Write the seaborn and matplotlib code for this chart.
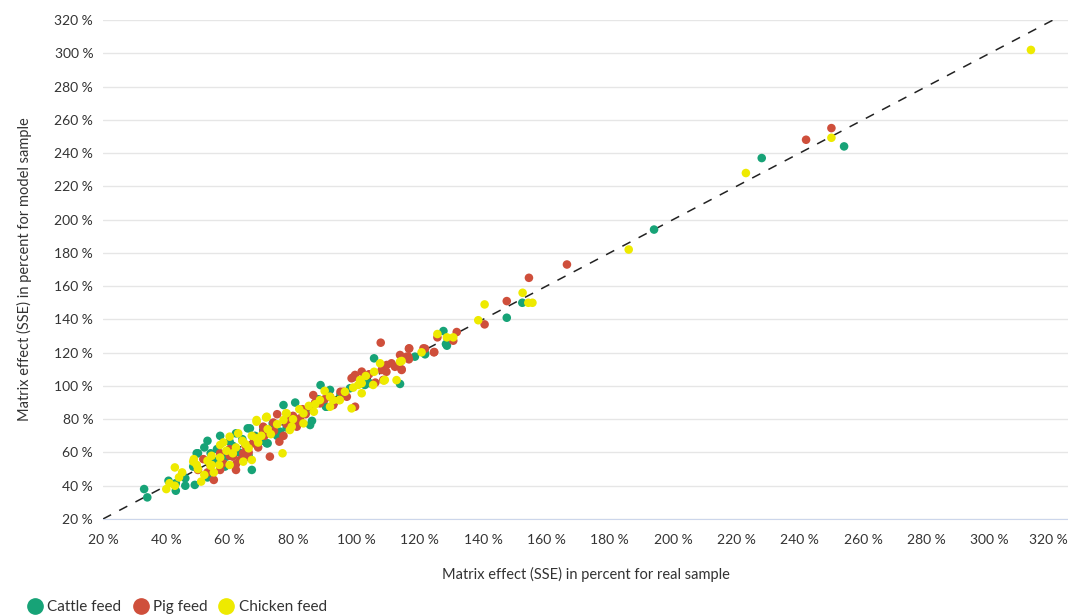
import matplotlib.pyplot as plt
import matplotlib.ticker as mticker
import matplotlib.transforms as mtransforms
import pandas as pd
import seaborn as sns

# values (percent)
cattle_real = [33, 34, 43, 43, 40.7, 46, 46, 49, 53, 53, 49.6, 48.5, 54, 59, 62, 60, 65.7, 73.6, 77, 80.7,
               72, 67, 50, 58.5, 88.7, 98, 90.4, 85.4, 79, 70.6, 66.4, 71.7, 75.9, 105.6, 113.8, 102.7, 104.3,
               91.7, 90.6, 127.5, 128.3, 121.7, 118.5, 102.4, 128.6, 121.7, 152.4, 147.5, 194, 228, 254,
               56, 63, 68, 61, 55, 84, 86, 57, 64, 70, 75, 78, 52, 45, 66, 88, 95]
cattle_model = [38, 33, 41.5, 37, 43, 44.5, 40, 40.5, 45, 67, 59.5, 51.5, 59.5, 57.5, 71.5, 66.5, 74.5, 77.5, 88.5, 90,
                65.5, 49.5, 59.5, 51.5, 100.5, 98.6, 87.5, 76.5, 79.5, 73.5, 74.5, 65.5, 72.5, 116.6, 101.2, 100.6, 101.6,
                97.6, 87.5, 133, 125.2, 119.6, 117.6, 102.6, 124.2, 119, 150, 141, 194, 237, 244,
                62, 60, 70, 64, 55, 84, 79, 70, 68, 67, 70, 75, 63, 47, 58, 92, 95]

pig_real = [55, 51.7, 50, 57, 62, 61, 75, 79, 81.7, 75.7, 70.6, 67.4, 64.3, 58, 57, 63.3, 72.7, 95, 88.5, 85.4,
            82.2, 81.2, 70.6, 67.4, 73.8, 107.7, 109.6, 113.8, 115.9, 108.5, 109.5, 98.5, 99.6, 101.7, 95.9, 97,
            91.7, 86.4, 92.7, 124.5, 116.7, 121.2, 116.4, 111.1, 112.2, 114.3, 108, 99, 99.6, 131.7, 125.6, 130.6,
            124.6, 121.7, 116.6, 116.6, 114.3, 140.5, 147.5, 154.5, 166.5, 242, 250,
            53, 60, 66, 69, 65, 77, 83, 54, 60, 62, 65, 68, 71, 74, 78, 80, 84, 87, 90, 93, 104, 106]
pig_model = [43.5, 56, 49.5, 59.5, 49.5, 57.5, 83, 79.5, 78.5, 66.5, 72, 65.5, 59.5, 53.5, 49.5, 55.5, 57.5, 96.5, 89.5, 87.5,
             80.5, 75.5, 75.5, 69.5, 78, 126, 112.6, 118.6, 117.6, 103.6, 108.5, 104.6, 106.6, 108.6, 96.5, 93.5,
             93.5, 94.5, 88.5, 120.2, 122.6, 122.6, 117.6, 113.6, 111.5, 109.6, 109.6, 105.2, 87.5, 132.4, 129.2, 127.2,
             120.4, 122.4, 122.4, 116, 110, 137, 151, 165, 173, 248, 255,
             48, 62, 60, 63, 57, 70, 86, 52, 58, 53, 64, 67, 70, 73, 77, 82, 83, 90, 92, 90, 107, 102]

chicken_real = [40, 41, 42.7, 42.7, 45, 51, 52, 55, 48.7, 49.6, 54, 54.3, 57, 56.7, 60, 60, 61, 62.7, 68.5, 71.5,
                77.8, 77, 79.6, 76.7, 68.5, 66, 48.5, 54.3, 64.3, 67, 90, 96.4, 91.7, 94.6, 86.6, 83.3, 83.3, 79,
                78, 68.5, 71.7, 107.5, 105.6, 113.8, 112.7, 109, 101.2, 100.6, 105.3, 101.7, 98.5, 92.7, 94.8, 88.5,
                91.7, 120.6, 108.7, 101.7, 125.6, 128.6, 130.6, 114.3, 140.5, 152.5, 154.3, 155.6, 138.5, 186, 223,
                250, 313, 58, 64, 70, 73, 85, 44,
                50, 53, 57, 59, 62, 65, 67, 69, 72, 75, 80, 82, 87, 99, 103]
chicken_model = [38, 41.5, 40, 51, 48, 42.5, 46.5, 48, 56, 52.5, 52, 58, 64.5, 52.5, 69.5, 52.5, 59.5, 71.5, 79.5, 81,
                 83.5, 79.5, 75.5, 59.5, 68.5, 62.5, 54.5, 52.5, 54.5, 55.5, 97, 96.5, 93.5, 91.5, 84.5, 83.5, 77.5, 73.5,
                 83.5, 78.5, 81.5, 113.6, 108.5, 114.6, 103.5, 103.6, 103.6, 100.6, 100.6, 95.6, 86.5, 91.5, 91.5, 91.5,
                 87.5, 120.2, 103.2, 101.6, 131.2, 129.2, 129.2, 115, 149, 156, 150, 150, 139.5, 182, 228,
                 249.2, 302, 66, 67, 70, 71, 88, 45,
                 50, 55, 57, 61, 63, 65, 70, 66, 74, 77, 80, 86, 89, 99, 106]

feeds = ["Cattle feed", "Pig feed", "Chicken feed"]
colors = ["#17a377", "#cf4f3b", "#eeea00"]
ticks = list(range(20, 340, 20))

df = pd.concat([
    pd.DataFrame({"real": cattle_real, "model": cattle_model, "feed": feeds[0]}),
    pd.DataFrame({"real": pig_real, "model": pig_model, "feed": feeds[1]}),
    pd.DataFrame({"real": chicken_real, "model": chicken_model, "feed": feeds[2]}),
], ignore_index=True)

sns.set_style("white")
plt.rcParams["font.family"] = ["Lato", "DejaVu Sans"]

fig = plt.figure(figsize=(10.68, 6.15), dpi=100)
ax = fig.add_axes([0.0964, 0.1561, 0.9036, 0.8114])

ax.plot([20, 320], [20, 320], color="#222222", linestyle=(0, (6, 6)), linewidth=1.1, zorder=1)
sns.scatterplot(data=df, x="real", y="model", hue="feed", hue_order=feeds, palette=colors,
                s=38, linewidth=0, alpha=1, ax=ax, zorder=3)

ax.set_xlim(20, 324.7)
ax.set_ylim(20, 320)
ax.set_xticks(ticks)
ax.set_yticks(ticks)
fmt = mticker.FuncFormatter(lambda v, p: f"{int(v)} %")
ax.xaxis.set_major_formatter(fmt)
ax.yaxis.set_major_formatter(fmt)
ax.yaxis.grid(True, color="#e6e6e6", linewidth=1)
ax.xaxis.grid(False)
for side in ["left", "right", "top"]:
    ax.spines[side].set_visible(False)
ax.spines["bottom"].set_color("#ccd6eb")
ax.tick_params(axis="x", length=9, color="#ccd6eb", labelsize=10, labelcolor="#333333", pad=2)
ax.tick_params(axis="y", length=0, labelsize=10, labelcolor="#333333", pad=7)
ax.set_axisbelow(True)

# keep the last x label inside the figure
last = ax.get_xticklabels()[-1]
last.set_transform(last.get_transform() + mtransforms.ScaledTranslation(-5 / 100, 0, fig.dpi_scale_trans))

ax.set_xlabel("Matrix effect (SSE) in percent for real sample", fontsize=10.5, color="#333333", labelpad=15)
ax.set_ylabel("Matrix effect (SSE) in percent for model sample", fontsize=10.5, color="#333333", labelpad=16)

ax.legend_.remove()
handles = [plt.Line2D([], [], marker="o", linestyle="", markersize=11, color=c) for c in colors]
fig.legend(handles, feeds, loc="lower left", bbox_to_anchor=(0.02, -0.009), ncol=3, frameon=False,
           fontsize=11, handletextpad=0.3, columnspacing=0.75, borderaxespad=0, handlelength=1.0,
           labelcolor="#333333")

fig.savefig("out.png", dpi=100)
